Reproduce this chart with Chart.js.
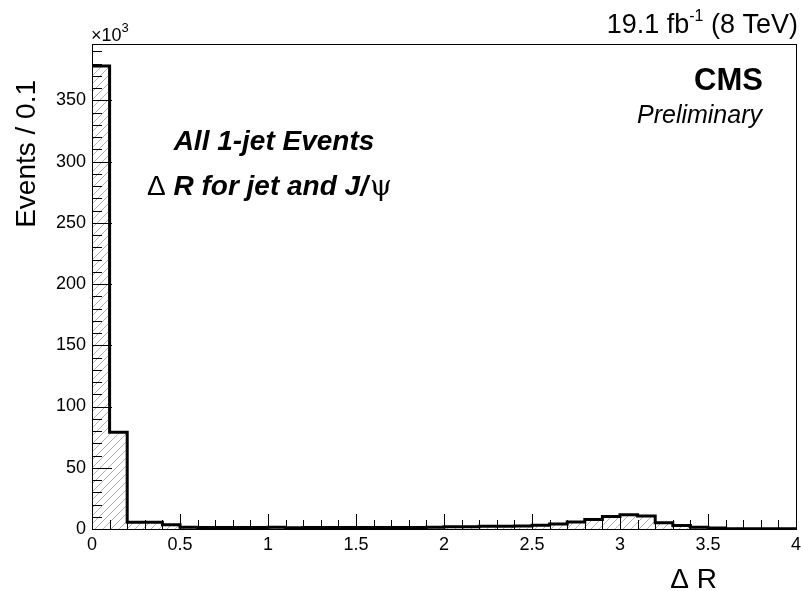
<!DOCTYPE html>
<html>
<head>
<meta charset="utf-8">
<title>Delta R for jet and J/psi</title>
<script src="https://cdn.jsdelivr.net/npm/chart.js@4.4.1/dist/chart.umd.min.js"></script>
<style>
	html, body { margin: 0; padding: 0; background: #fff; }
	#wrap { width: 801px; height: 591px; position: relative; }
</style>
</head>
<body>
<div id="wrap"><canvas id="drChart" width="801" height="591"></canvas></div>
<script>
// Lower edges of the Delta R bins (width 0.1)
const binLow = [
	0.0, 0.1, 0.2, 0.3, 0.4, 0.5, 0.6, 0.7, 0.8, 0.9,
	1.0, 1.1, 1.2, 1.3, 1.4, 1.5, 1.6, 1.7, 1.8, 1.9,
	2.0, 2.1, 2.2, 2.3, 2.4, 2.5, 2.6, 2.7, 2.8, 2.9,
	3.0, 3.1, 3.2, 3.3, 3.4, 3.5, 3.6, 3.7, 3.8, 3.9,
];
const binUpperEdge = 4.0;

// Events per bin, in thousands
const eventsK = [
	378, 79, 5.5, 5.5, 3.5, 1.5, 1.2, 1.3, 1.3, 1.3,
	1.4, 1.0, 1.3, 1.3, 1.3, 1.3, 1.3, 1.3, 1.3, 1.4,
	1.8, 1.8, 2.2, 2.3, 2.5, 3.0, 4.0, 5.7, 7.8, 10.2,
	11.6, 10.6, 5.2, 2.8, 1.4, 0.8, 0.3, 0.3, 0.3, 0.3,
];

// Axis ticks and labels
const xTickValues = [0, 0.5, 1, 1.5, 2, 2.5, 3, 3.5, 4];
const xTickLabels = ["0", "0.5", "1", "1.5", "2", "2.5", "3", "3.5", "4"];
const yTickValues = [0, 50, 100, 150, 200, 250, 300, 350];
const yTickLabels = ["0", "50", "100", "150", "200", "250", "300", "350"];
const xMinorStep = 0.1;
const yMinorStep = 10;

const FONT = "'Liberation Sans', Arial, Helvetica, sans-serif";

/**
 * Diagonal hatch used to fill the histogram
 */
function makeHatch() {
	const s = 8;
	const c = document.createElement("canvas");
	c.width = s;
	c.height = s;
	const g = c.getContext("2d");
	g.strokeStyle = "#a0a0a0";
	g.lineWidth = 0.8;
	g.beginPath();
	g.moveTo(-1, s + 1);
	g.lineTo(s + 1, -1);
	g.moveTo(-1, 1);
	g.lineTo(1, -1);
	g.moveTo(s - 1, s + 1);
	g.lineTo(s + 1, s - 1);
	g.stroke();
	return g.createPattern(c, "repeat");
}

// Step outline: one point per bin edge, last bin closed at the upper edge
const histPoints = binLow.map(function (x, i) {
	return { x: x, y: eventsK[i] };
});
histPoints.push({ x: binUpperEdge, y: eventsK[eventsK.length - 1] });

/**
 * ROOT-style frame with inward ticks
 */
const frameTicks = {
	id: "frameTicks",
	afterDatasetsDraw(chart) {
		const ctx = chart.ctx;
		const a = chart.chartArea;
		const xs = chart.scales.x;
		const ys = chart.scales.y;
		ctx.save();
		ctx.strokeStyle = "#000";
		ctx.lineWidth = 1;
		ctx.beginPath();

		// x ticks: minor every 0.1, major at labelled values
		for (let v = xs.min; v <= xs.max + 1e-9; v += xMinorStep) {
			const px = Math.round(xs.getPixelForValue(v)) + 0.5;
			const isMajor = xTickValues.some(function (t) { return Math.abs(t - v) < 1e-6; });
			const len = isMajor ? 15 : 9;
			ctx.moveTo(px, a.bottom);
			ctx.lineTo(px, a.bottom - len);
		}

		// y ticks: minor every 10, major at labelled values
		for (let v = 0; v <= ys.max + 1e-9; v += yMinorStep) {
			const py = Math.round(ys.getPixelForValue(v)) + 0.5;
			const isMajor = yTickValues.indexOf(Math.round(v)) !== -1;
			const len = isMajor ? 20 : 10;
			ctx.moveTo(a.left, py);
			ctx.lineTo(a.left + len, py);
		}
		ctx.stroke();

		ctx.strokeRect(Math.round(a.left) + 0.5, Math.round(a.top) + 0.5,
			Math.round(a.right - a.left), Math.round(a.bottom - a.top));
		ctx.restore();
	},
};

/**
 * Labels, titles and the experiment banner
 */
const annotations = {
	id: "annotations",
	afterDraw(chart) {
		const ctx = chart.ctx;
		ctx.save();
		ctx.fillStyle = "#000";
		ctx.textBaseline = "alphabetic";

		// exponent of the y axis
		ctx.textAlign = "left";
		ctx.font = "18px " + FONT;
		ctx.fillText("\u00d710", 91, 41);
		const w10 = ctx.measureText("\u00d710").width;
		ctx.font = "13px " + FONT;
		ctx.fillText("3", 91 + w10, 32);

		// luminosity and energy
		const partA = "19.1 fb";
		const partSup = "-1";
		const partB = " (8 TeV)";
		ctx.font = "27px " + FONT;
		const wA = ctx.measureText(partA).width;
		const wB = ctx.measureText(partB).width;
		ctx.font = "16px " + FONT;
		const wS = ctx.measureText(partSup).width;
		let x0 = 798 - (wA + wS + wB);
		ctx.font = "27px " + FONT;
		ctx.fillText(partA, x0, 33);
		ctx.font = "16px " + FONT;
		ctx.fillText(partSup, x0 + wA, 21);
		ctx.font = "27px " + FONT;
		ctx.fillText(partB, x0 + wA + wS, 33);

		// banner
		ctx.textAlign = "right";
		ctx.font = "bold 31px " + FONT;
		ctx.fillText("CMS", 763, 90);
		ctx.font = "italic 25px " + FONT;
		ctx.fillText("Preliminary", 762, 123);

		// selection label
		ctx.textAlign = "center";
		ctx.font = "italic bold 28px " + FONT;
		ctx.fillText("All 1-jet Events", 274, 150);

		ctx.textAlign = "left";
		let cx = 147;
		ctx.font = "28px " + FONT;
		ctx.fillText("\u0394", cx, 195);
		cx += ctx.measureText("\u0394 ").width;
		ctx.font = "italic bold 28px " + FONT;
		const mid = "R for jet and J/";
		ctx.fillText(mid, cx, 195);
		cx += ctx.measureText(mid).width + 2;
		ctx.font = "28px 'DejaVu Serif', serif";
		ctx.fillText("\u03c8", cx, 195);

		// axis titles
		ctx.font = "28px " + FONT;
		ctx.textAlign = "right";
		ctx.fillText("\u0394 R", 717, 588);

		ctx.translate(35, 80);
		ctx.rotate(-Math.PI / 2);
		ctx.font = "28px " + FONT;
		ctx.textAlign = "right";
		ctx.fillText("Events / 0.1", 0, 0);
		ctx.restore();
	},
};

new Chart(document.getElementById("drChart"), {
	type: "line",
	data: {
		datasets: [
			{
				label: "Delta R",
				data: histPoints,
				stepped: "before",
				borderColor: "#000",
				borderWidth: 3,
				backgroundColor: makeHatch(),
				fill: "origin",
				pointRadius: 0,
				tension: 0,
			},
		],
	},
	options: {
		responsive: false,
		animation: false,
		devicePixelRatio: 1,
		layout: {
			padding: { top: 44, right: 5, bottom: 0, left: 0 },
		},
		plugins: {
			legend: { display: false },
			tooltip: { enabled: false },
		},
		scales: {
			x: {
				type: "linear",
				min: 0,
				max: binUpperEdge,
				grid: { display: false, drawTicks: false },
				border: { display: false },
				afterBuildTicks: function (scale) {
					scale.ticks = xTickValues.map(function (v) { return { value: v }; });
				},
				afterFit: function (scale) {
					scale.height = 62;
					// let the end labels hang past the frame
					scale.paddingLeft = 0;
					scale.paddingRight = 0;
				},
				ticks: {
					autoSkip: false,
					maxRotation: 0,
					padding: 5,
					color: "#000",
					font: { family: FONT, size: 18 },
					callback: function (value, index) {
						return xTickLabels[index];
					},
				},
			},
			y: {
				type: "linear",
				min: 0,
				max: 396,
				grid: { display: false, drawTicks: false },
				border: { display: false },
				afterBuildTicks: function (scale) {
					scale.ticks = yTickValues.map(function (v) { return { value: v }; });
				},
				afterFit: function (scale) {
					scale.width = 92;
					scale.paddingTop = 0;
					scale.paddingBottom = 0;
				},
				ticks: {
					padding: 6,
					color: "#000",
					font: { family: FONT, size: 18 },
					callback: function (value, index) {
						return yTickLabels[index];
					},
				},
			},
		},
	},
	plugins: [frameTicks, annotations],
});
</script>
</body>
</html>
